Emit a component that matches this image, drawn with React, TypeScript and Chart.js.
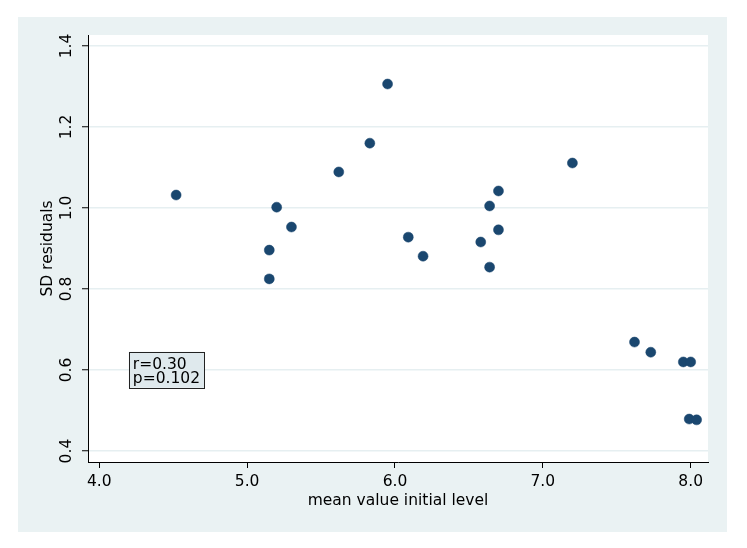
import React, { useEffect, useRef } from "react";
import { Chart, registerables } from "chart.js";

Chart.register(...registerables);

const initialLevel = [4.52, 5.15, 5.15, 5.2, 5.3, 5.62, 5.83, 5.95, 6.09, 6.19, 6.58, 6.64, 6.64, 6.7, 6.7, 7.2, 7.62, 7.73, 7.95, 8.0, 7.99, 8.04];
const sdResiduals = [1.032, 0.896, 0.825, 1.002, 0.953, 1.089, 1.16, 1.306, 0.928, 0.881, 0.916, 1.005, 0.854, 1.042, 0.946, 1.111, 0.669, 0.644, 0.62, 0.62, 0.479, 0.477];
const xTicks = [4, 5, 6, 7, 8];
const yTicks = [0.4, 0.6, 0.8, 1.0, 1.2, 1.4];
const xTitle = "mean value initial level";
const yTitle = "SD residuals";
const annotationLines = ["r=0.30", "p=0.102"];
const annotationAnchor = { x: 4.2, y: 0.645 };

const FONT = '"DejaVu Sans", sans-serif';
const FONT_SIZE = 15.5;
const OUTER_BG = "#eaf2f3";
const GRID = "#e6eff1";
const MARKER = "#1a476f";

const backgroundPlugin = {
  id: "stataBackground",
  beforeDraw(chart: any) {
    const { ctx, chartArea } = chart;
    ctx.save();
    ctx.fillStyle = "#ffffff";
    ctx.fillRect(0, 0, chart.width, chart.height);
    ctx.fillStyle = OUTER_BG;
    ctx.fillRect(18, 17, 709, 515);
    ctx.fillStyle = "#ffffff";
    ctx.fillRect(chartArea.left, chartArea.top, chartArea.right - chartArea.left, chartArea.bottom - chartArea.top);
    ctx.restore();
  },
};

const annotationPlugin = {
  id: "corrBox",
  afterDraw(chart: any) {
    const { ctx } = chart;
    const xs = chart.scales.x;
    const ys = chart.scales.y;
    const left = xs.getPixelForValue(annotationAnchor.x);
    const top = ys.getPixelForValue(annotationAnchor.y);
    ctx.save();
    ctx.font = `${FONT_SIZE}px ${FONT}`;
    const w = Math.max(...annotationLines.map((t) => ctx.measureText(t).width)) + 8;
    const h = 36;
    ctx.fillStyle = "#dfe9ed";
    ctx.fillRect(left, top, w, h);
    ctx.strokeStyle = "#222222";
    ctx.lineWidth = 1;
    ctx.strokeRect(Math.round(left) + 0.5, Math.round(top) + 0.5, Math.round(w), h);
    ctx.fillStyle = "#000000";
    ctx.textBaseline = "alphabetic";
    ctx.textAlign = "left";
    annotationLines.forEach((t, i) => {
      ctx.fillText(t, left + 4, top + 17 + i * 14);
    });
    ctx.restore();
  },
};

export default function App() {
  const ref = useRef<HTMLCanvasElement | null>(null);

  useEffect(() => {
    if (!ref.current) return;
    const chart = new Chart(ref.current, {
      type: "scatter",
      data: {
        datasets: [
          {
            data: initialLevel.map((x, i) => ({ x, y: sdResiduals[i] })),
            backgroundColor: MARKER,
            borderColor: MARKER,
            borderWidth: 0.5,
            pointRadius: 5,
            pointHoverRadius: 5,
          },
        ],
      },
      options: {
        responsive: false,
        animation: false,
        events: [],
        layout: { padding: { left: 18, top: 35, right: 39, bottom: 16 } },
        plugins: {
          legend: { display: false },
          tooltip: { enabled: false },
        },
        scales: {
          x: {
            type: "linear",
            min: 3.924,
            max: 8.117,
            afterBuildTicks: (scale: any) => {
              scale.ticks = xTicks.map((v) => ({ value: v }));
            },
            afterFit: (scale: any) => {
              scale.height = 70;
            },
            ticks: {
              color: "#000",
              font: { family: FONT, size: FONT_SIZE },
              padding: 5,
              maxRotation: 0,
              minRotation: 0,
              autoSkip: false,
              callback: (v: any) => Number(v).toFixed(1),
            },
            grid: {
              drawOnChartArea: false,
              tickLength: 6,
              tickColor: "#000",
              tickWidth: 1,
            },
            border: { display: true, color: "#000", width: 1 },
            title: {
              display: true,
              text: xTitle,
              color: "#000",
              font: { family: FONT, size: FONT_SIZE },
              padding: { top: 0, bottom: 22 },
            },
          },
          y: {
            type: "linear",
            min: 0.373,
            max: 1.427,
            afterBuildTicks: (scale: any) => {
              scale.ticks = yTicks.map((v) => ({ value: v }));
            },
            afterFit: (scale: any) => {
              scale.width = 70;
            },
            ticks: {
              color: "#000",
              font: { family: FONT, size: FONT_SIZE },
              padding: 3,
              minRotation: 90,
              maxRotation: 90,
              crossAlign: "center",
              autoSkip: false,
              callback: (v: any) => Number(v).toFixed(1),
            },
            grid: {
              color: GRID,
              lineWidth: 1.5,
              tickLength: 6,
              tickColor: "#000",
              tickWidth: 1,
            },
            border: { display: true, color: "#000", width: 1 },
            title: {
              display: true,
              text: yTitle,
              color: "#000",
              font: { family: FONT, size: FONT_SIZE },
              padding: { top: 21, bottom: 0 },
            },
          },
        },
      },
      plugins: [backgroundPlugin, annotationPlugin],
    } as any);
    return () => chart.destroy();
  }, []);

  return (
    <div style={{ position: "fixed", left: 0, top: 0, width: 747, height: 548, background: "#fff" }}>
      <canvas ref={ref} width={747} height={548} style={{ width: 747, height: 548, display: "block" }} />
    </div>
  );
}
